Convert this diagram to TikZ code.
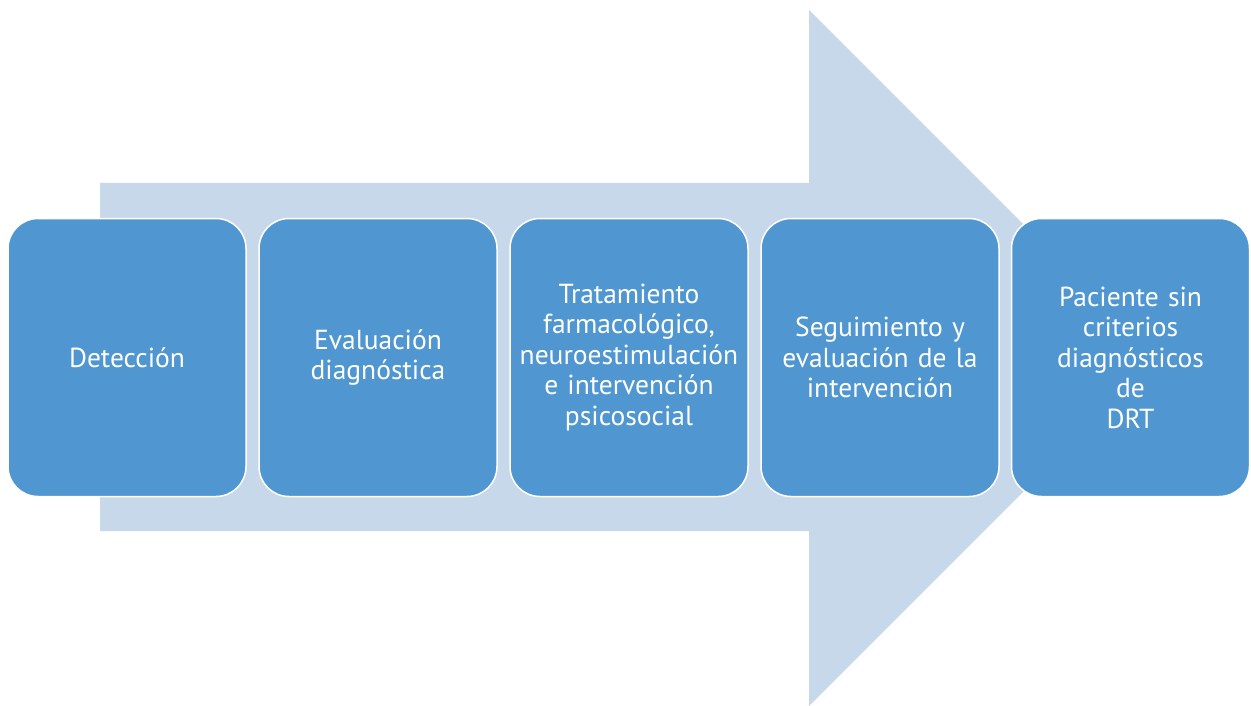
\documentclass[tikz,border=0pt]{standalone}
\usepackage{fontspec}
\setmainfont{PT Sans}
\definecolor{arrowbg}{HTML}{C7D8EA}
\definecolor{stagefill}{HTML}{5097D1}
\tikzset{
  stage/.style={fill=stagefill, draw=white, line width=1.5pt, rounded corners=30pt,
    minimum width=238pt, minimum height=278pt, inner sep=0pt, text width=236pt,
    align=center, text=white, font=\fontsize{27.5}{30.5}\selectfont}
}
\begin{document}
\begin{tikzpicture}[x=1pt, y=-1pt]
    \useasboundingbox (0,0) rectangle (1251,706);
    \fill[arrowbg] (100,183) -- (809,183) -- (809,10) -- (1157,358) -- (809,706) -- (809,531) -- (100,531) -- cycle;
    \node[stage] (detect) at (127,357.5) {Detección};
    \node[stage] (eval) at (378,357.5) {Evaluación\\diagnóstica};
    \node[stage] (treat) at (629,357.5) {Tratamiento\\farmacológico,\\neuroestimulación\\e intervención\\psicosocial};
    \node[stage] (follow) at (880,357.5) {Seguimiento y\\evaluación de la\\intervención};
    \node[stage] (outcome) at (1130.5,357.5) {Paciente sin\\criterios\\diagnósticos\\de\\DRT};
\end{tikzpicture}
\end{document}
